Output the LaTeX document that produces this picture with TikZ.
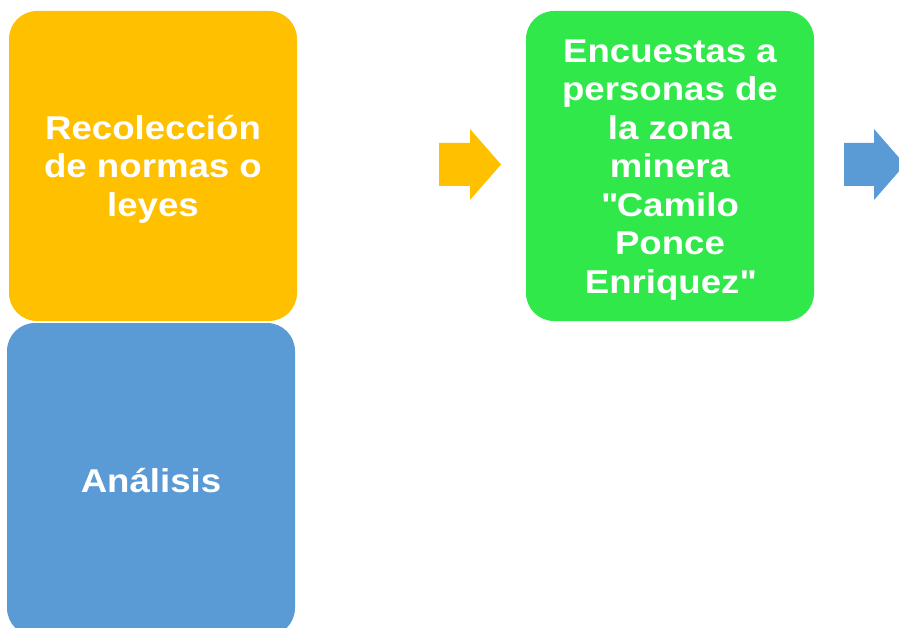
\documentclass[tikz,border=0pt]{standalone}
\usepackage{fontspec}
\setmainfont{Liberation Sans}[FakeStretch=1.11]
\definecolor{cOrange}{HTML}{FFC000}
\definecolor{cBlue}{HTML}{5B9BD5}
\definecolor{cGreen}{HTML}{30E84A}
\begin{document}
\begin{tikzpicture}[x=1pt,y=-1pt]
\tikzset{
  box/.style={rounded corners=28pt, minimum width=288pt, minimum height=310pt,
    inner sep=0pt},
  boxtext/.style={text=white, align=center, inner sep=0pt,
    font=\bfseries\fontsize{33}{38.5}\selectfont}
}
\useasboundingbox (0,0) rectangle (899,628);
\clip (0,0) rectangle (899,628);
\node[box, fill=cOrange] (recol) at (153,166) {};
\node[boxtext, yshift=-3pt] (recolt) at (recol.center) {Recolección\\de normas o\\leyes};
\node[box, fill=cBlue, minimum height=313pt] (anal) at (151,479.5) {};
\node[boxtext, yshift=-1pt] (analt) at (anal.center) {Análisis};
\node[box, fill=cGreen] (encu) at (670,166) {};
\node[boxtext, yshift=-4pt] (encut) at (encu.center) {Encuestas a\\personas de\\la zona\\minera\\\textquotedbl Camilo\\Ponce\\Enriquez\textquotedbl};
\fill[cOrange] (439,143) -- (470,143) -- (470,129) -- (501,164.5) -- (470,200) -- (470,186) -- (439,186) -- cycle;
\fill[cBlue] (844,143) -- (874,143) -- (874,129) -- (905,164.5) -- (874,200) -- (874,186) -- (844,186) -- cycle;
\end{tikzpicture}
\end{document}
